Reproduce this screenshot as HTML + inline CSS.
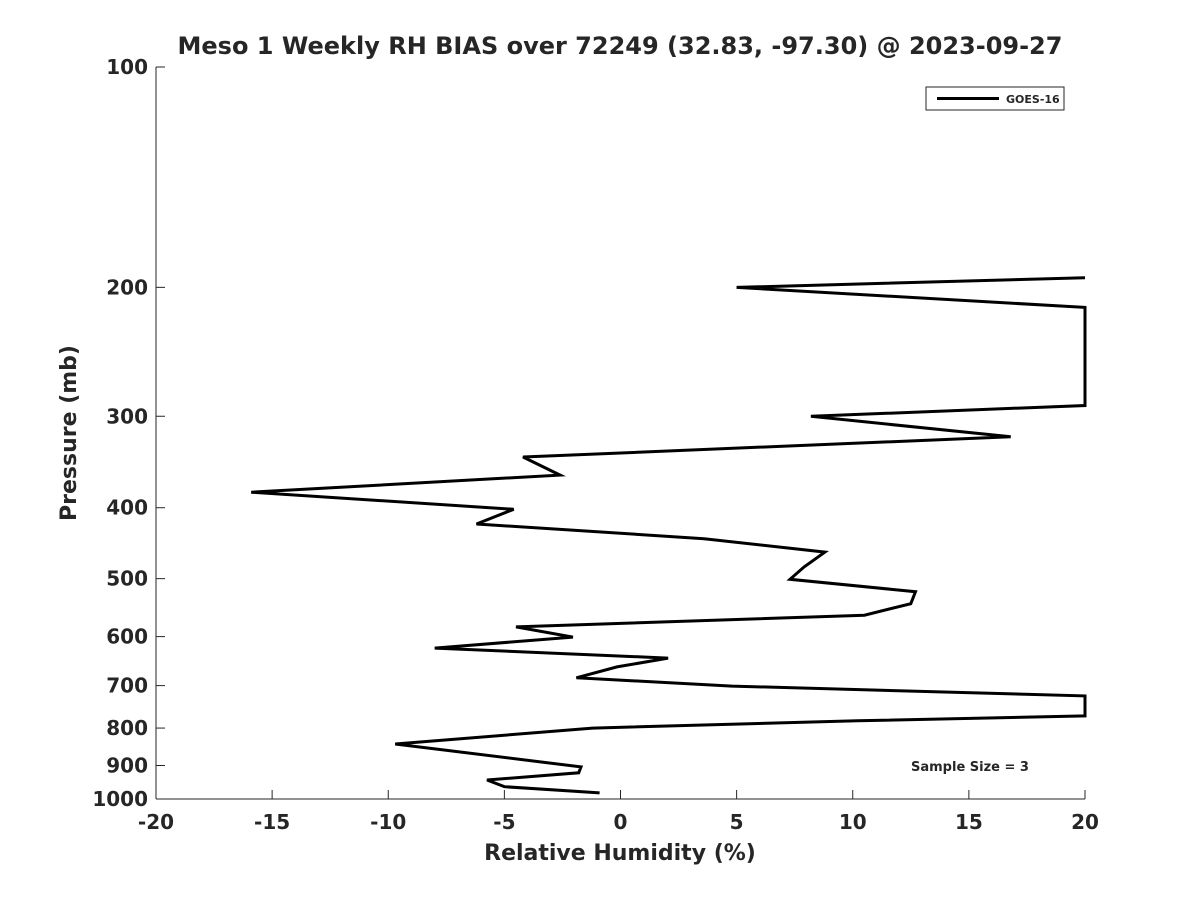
<!DOCTYPE html>
<html><head><meta charset="utf-8"><style>
html,body{margin:0;padding:0;background:#fff;}
svg text{font-family:"DejaVu Sans","Liberation Sans",sans-serif;font-weight:bold;fill:#262626;}
</style></head><body>
<svg id="chart" width="1200" height="900" xmlns="http://www.w3.org/2000/svg"></svg>
<script>
const rhBias = [20,5,20,20,8.2,16.8,-4.2,-2.6,-15.9,-4.6,-6.2,3.6,8.8,7.9,7.3,12.7,12.5,10.5,-4.5,-2.05,-8.0,2.05,-0.15,-1.9,4.8,20,20,10.2,-1.2,-9.7,-1.7,-1.8,-5.75,-5.0,-0.9];
const pressure = [194,200,213,290,300,320,341,361,381,402,421,441,460,482,501,521,541,561,582,601,622,642,660,683,701,723,770,782,800,841,904,921,942,962,981];
const xTicks = [-20,-15,-10,-5,0,5,10,15,20];
const yTicks = [100,200,300,400,500,600,700,800,900,1000];

const svg = document.getElementById('chart');
const NS = 'http://www.w3.org/2000/svg';
const L=156,R=1085,T=67,B=799;
const xs = v => L + (v+20)/40*(R-L);
const ys = p => T + Math.log10(p/100)*(B-T);
function mk(tag, attrs, text){const e=document.createElementNS(NS,tag);for(const k in attrs)e.setAttribute(k,attrs[k]);if(text!==undefined)e.textContent=text;svg.appendChild(e);return e;}

let e;
e = mk('rect',{x:L,y:T,width:R-L,height:B-T,fill:'#fff',stroke:'none'});


e = mk('line',{x1:L,y1:T,x2:L,y2:B,stroke:'#262626','stroke-width':1});


e = mk('line',{x1:L,y1:B,x2:R,y2:B,stroke:'#262626','stroke-width':1});



xTicks.forEach(v=>{
  const x=xs(v);
  e = mk('line',{x1:x,y1:B,x2:x,y2:B-9,stroke:'#262626','stroke-width':1});
  
  
  e = mk('text',{x:x,y:B+30,'text-anchor':'middle','font-size':20},String(v));
  
  
});
yTicks.forEach(p=>{
  const y=ys(p);
  e = mk('line',{x1:L,y1:y,x2:L+9,y2:y,stroke:'#262626','stroke-width':1});
  
  
  e = mk('text',{x:L-8,y:y+7,'text-anchor':'end','font-size':20},String(p));
  
  
});

const pts = rhBias.map((v,i)=>xs(v).toFixed(1)+','+ys(pressure[i]).toFixed(1)).join(' ');
e = mk('polyline',{points:pts,fill:'none',stroke:'#000','stroke-width':3,'stroke-linejoin':'miter'});



e = mk('text',{x:620,y:54,'text-anchor':'middle','font-size':24,fill:'#000'},'Meso 1 Weekly RH BIAS over 72249 (32.83, -97.30) @ 2023-09-27');


e = mk('text',{x:620,y:860,'text-anchor':'middle','font-size':22},'Relative Humidity (%)');


e = mk('text',{x:0,y:0,'text-anchor':'middle','font-size':22,transform:'translate(76,433) rotate(-90)'},'Pressure (mb)');



e = mk('rect',{x:926,y:87,width:138,height:23,fill:'#fff',stroke:'#262626','stroke-width':1});


e = mk('line',{x1:937,y1:98.5,x2:999,y2:98.5,stroke:'#000','stroke-width':3});


e = mk('text',{x:1006,y:103,'font-size':11},'GOES-16');



e = mk('text',{x:911,y:771,'font-size':13,fill:'#000'},'Sample Size = 3');


</script>
</body></html>
